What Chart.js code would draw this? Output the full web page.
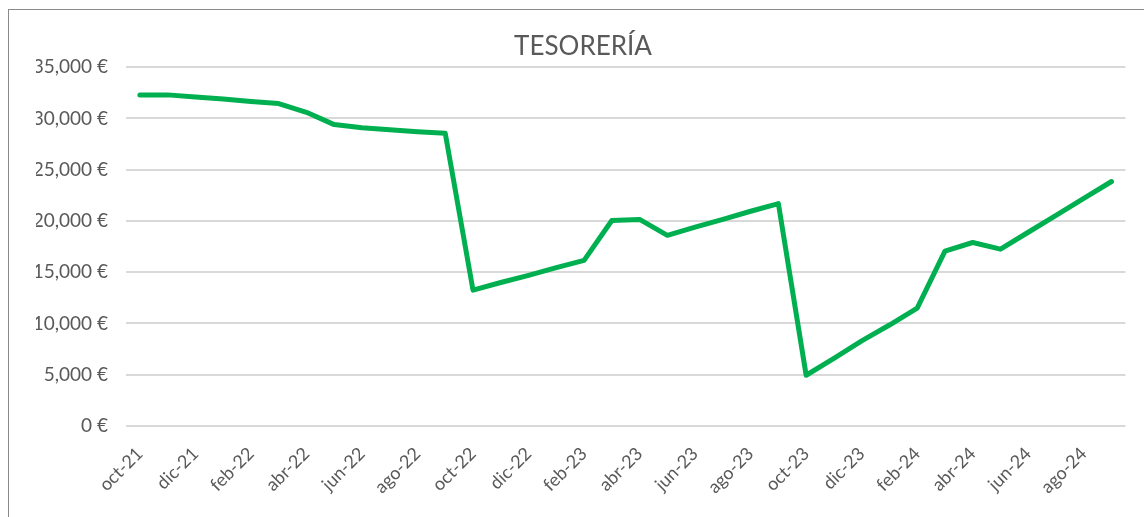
<!DOCTYPE html>
<html>
<head>
<meta charset="utf-8">
<script src="https://cdn.jsdelivr.net/npm/chart.js@4"></script>
<style>
  html, body { margin: 0; padding: 0; background: #fff; overflow: hidden; }
  #frame {
    position: absolute; left: 8px; top: 9px; width: 1200px; height: 600px;
    border: 1px solid #8a8a8a; box-sizing: border-box;
  }
  #wrap { position: absolute; left: 0; top: 0; width: 1144px; height: 517px; }
</style>
</head>
<body>
<div id="frame"></div>
<div id="wrap"><canvas id="treasuryChart" width="1144" height="517"></canvas></div>
<script>
const months = [
  'oct-21', 'nov-21', 'dic-21', 'ene-22', 'feb-22', 'mar-22', 'abr-22', 'may-22', 'jun-22',
  'jul-22', 'ago-22', 'sep-22', 'oct-22', 'nov-22', 'dic-22', 'ene-23', 'feb-23', 'mar-23',
  'abr-23', 'may-23', 'jun-23', 'jul-23', 'ago-23', 'sep-23', 'oct-23', 'nov-23', 'dic-23',
  'ene-24', 'feb-24', 'mar-24', 'abr-24', 'may-24', 'jun-24', 'jul-24', 'ago-24', 'sep-24',
];

const treasury = [
  32300, 32300, 32100, 31900, 31650, 31450, 30600, 29400, 29100,
  28900, 28700, 28550, 13250, 14000, 14700, 15450, 16150, 20050,
  20150, 18600, 19400, 20150, 20950, 21700, 4950, 6600, 8300,
  9850, 11500, 17050, 17900, 17250, 18900, 20550, 22200, 23850,
];

const yMax = 35000;
const yStep = 5000;

const textColor = '#595959';
const fontFamily = 'Lato, "Open Sans", sans-serif';

function euro(v) {
  return v.toLocaleString('en-US') + ' €';
}

document.addEventListener('DOMContentLoaded', function () {
  const ctx = document.getElementById('treasuryChart').getContext('2d');

  new Chart(ctx, {
    type: 'line',
    data: {
      labels: months,
      datasets: [
        {
          data: treasury,
          borderColor: '#00b050',
          borderWidth: 5,
          borderCapStyle: 'round',
          borderJoinStyle: 'round',
          pointRadius: 0,
          tension: 0,
          fill: false,
        },
      ],
    },
    options: {
      responsive: false,
      animation: false,
      layout: {
        padding: { left: 36, right: 14, top: 0, bottom: 0 },
      },
      plugins: {
        legend: { display: false },
        tooltip: { enabled: false },
        title: {
          display: true,
          text: 'TESORERÍA',
          color: textColor,
          font: { family: fontFamily, size: 26, weight: 'normal', lineHeight: 1.2 },
          padding: { top: 31, bottom: 5 },
        },
      },
      scales: {
        x: {
          offset: true,
          border: { display: false },
          grid: { display: false, drawTicks: false },
          ticks: {
            autoSkip: false,
            maxRotation: 45,
            minRotation: 45,
            padding: 17,
            color: textColor,
            font: { family: fontFamily, size: 18 },
            callback: function (value, index) {
              return index % 2 === 0 ? months[index] : '';
            },
          },
          afterFit: function (scale) {
            scale.height = 91;
          },
        },
        y: {
          min: 0,
          max: yMax,
          border: { display: false },
          grid: { color: '#d9d9d9', lineWidth: 2, drawTicks: false },
          ticks: {
            stepSize: yStep,
            padding: 18,
            color: textColor,
            font: { family: fontFamily, size: 19 },
            callback: function (value) {
              return euro(value);
            },
          },
          afterFit: function (scale) {
            scale.width = 90;
          },
        },
      },
    },
  });
});
</script>
</body>
</html>
